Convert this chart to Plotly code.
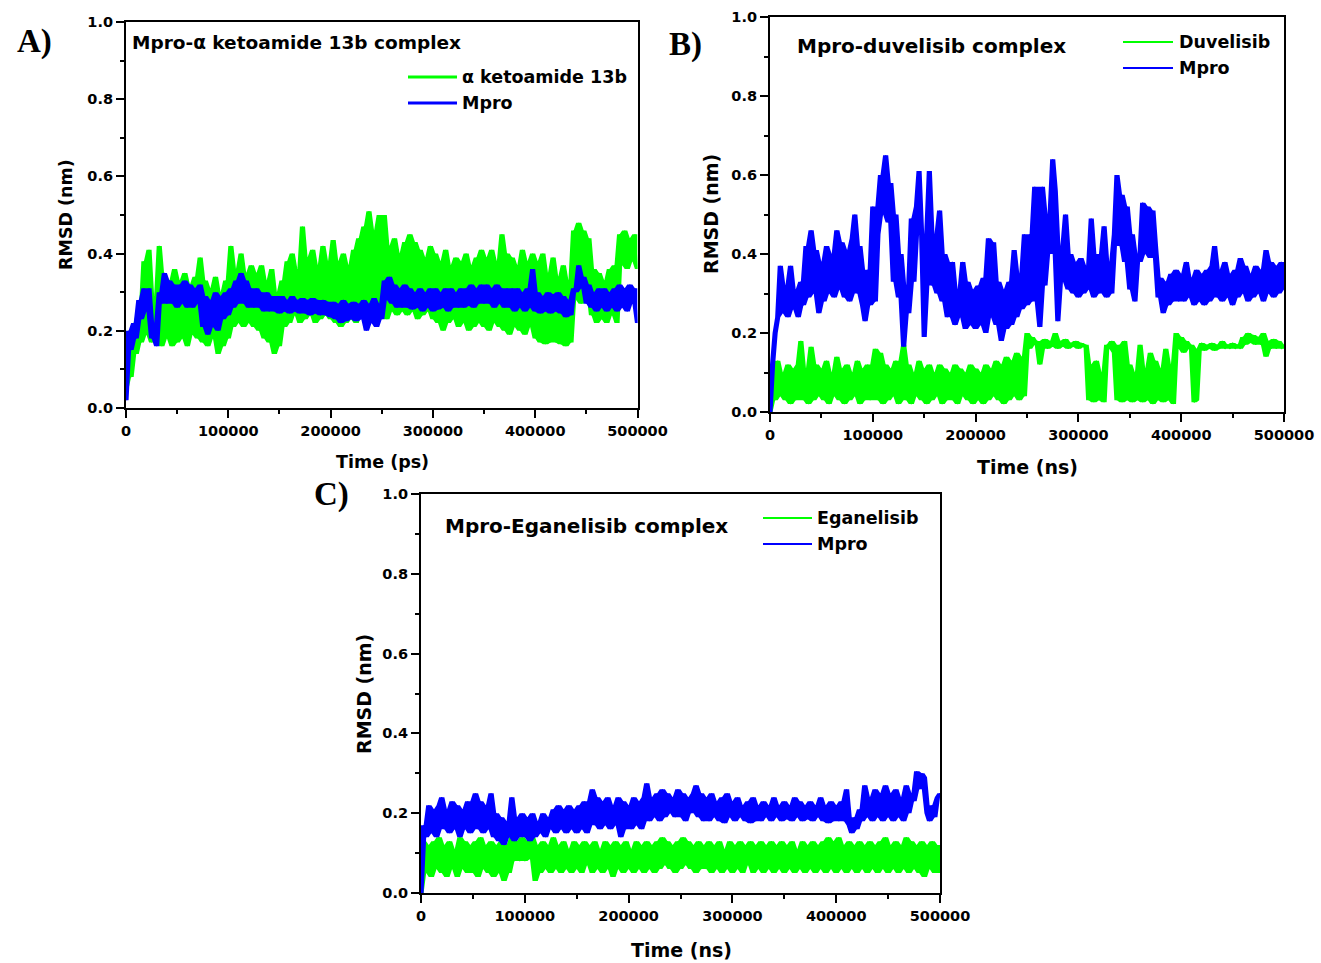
import numpy as np
import plotly.graph_objects as go

# ---- RMSD traces (nm), one sample every 2500 time units from 0 to 500000 ----
a_ligand = [
    0.05, 0.10, 0.08, 0.22, 0.14, 0.25, 0.17, 0.38, 0.19, 0.41,
    0.17, 0.29, 0.18, 0.42, 0.16, 0.34, 0.18, 0.33, 0.16, 0.36,
    0.17, 0.33, 0.18, 0.35, 0.16, 0.32, 0.19, 0.34, 0.18, 0.39,
    0.17, 0.33, 0.16, 0.31, 0.18, 0.34, 0.14, 0.30, 0.16, 0.33,
    0.18, 0.42, 0.21, 0.36, 0.22, 0.40, 0.21, 0.35, 0.22, 0.37,
    0.21, 0.35, 0.20, 0.37, 0.18, 0.33, 0.17, 0.36, 0.14, 0.30,
    0.16, 0.33, 0.21, 0.38, 0.22, 0.40, 0.24, 0.36, 0.22, 0.47,
    0.23, 0.39, 0.24, 0.41, 0.22, 0.37, 0.23, 0.42, 0.24, 0.38,
    0.23, 0.435, 0.22, 0.38, 0.21, 0.40, 0.22, 0.37, 0.23, 0.41,
    0.22, 0.44, 0.24, 0.47, 0.23, 0.51, 0.24, 0.46, 0.22, 0.50,
    0.24, 0.50, 0.23, 0.42, 0.25, 0.44, 0.24, 0.40, 0.25, 0.43,
    0.24, 0.45, 0.25, 0.43, 0.23, 0.41, 0.24, 0.39, 0.25, 0.42,
    0.23, 0.40, 0.22, 0.38, 0.20, 0.41, 0.22, 0.37, 0.23, 0.39,
    0.21, 0.38, 0.22, 0.40, 0.20, 0.37, 0.21, 0.39, 0.22, 0.41,
    0.21, 0.39, 0.20, 0.41, 0.22, 0.38, 0.21, 0.45, 0.20, 0.40,
    0.19, 0.39, 0.21, 0.37, 0.20, 0.41, 0.19, 0.38, 0.21, 0.40,
    0.18, 0.38, 0.17, 0.40, 0.165, 0.35, 0.17, 0.39, 0.17, 0.34,
    0.165, 0.37, 0.16, 0.33, 0.17, 0.46, 0.28, 0.48, 0.27, 0.46,
    0.30, 0.44, 0.24, 0.36, 0.22, 0.35, 0.23, 0.33, 0.22, 0.36,
    0.24, 0.37, 0.22, 0.45, 0.37, 0.46, 0.36, 0.44, 0.38, 0.45,
    0.36,
]
a_mpro = [
    0.02, 0.20, 0.15, 0.22, 0.18, 0.28, 0.23, 0.31, 0.25, 0.31,
    0.18, 0.22, 0.16, 0.30, 0.27, 0.35, 0.27, 0.33, 0.27, 0.32,
    0.26, 0.32, 0.27, 0.33, 0.26, 0.32, 0.26, 0.31, 0.27, 0.32,
    0.21, 0.29, 0.19, 0.28, 0.21, 0.30, 0.20, 0.29, 0.23, 0.30,
    0.24, 0.31, 0.26, 0.33, 0.27, 0.35, 0.27, 0.33, 0.26, 0.31,
    0.26, 0.31, 0.26, 0.30, 0.25, 0.30, 0.25, 0.29, 0.25, 0.29,
    0.245, 0.29, 0.25, 0.28, 0.245, 0.29, 0.25, 0.28, 0.245, 0.285,
    0.245, 0.28, 0.24, 0.285, 0.245, 0.28, 0.24, 0.28, 0.24, 0.275,
    0.235, 0.275, 0.23, 0.27, 0.22, 0.28, 0.225, 0.27, 0.23, 0.275,
    0.225, 0.27, 0.23, 0.28, 0.20, 0.27, 0.22, 0.285, 0.21, 0.27,
    0.23, 0.33, 0.28, 0.34, 0.27, 0.32, 0.26, 0.31, 0.26, 0.32,
    0.26, 0.31, 0.255, 0.30, 0.26, 0.31, 0.25, 0.30, 0.26, 0.31,
    0.25, 0.31, 0.255, 0.30, 0.26, 0.31, 0.25, 0.31, 0.26, 0.30,
    0.26, 0.31, 0.26, 0.31, 0.265, 0.32, 0.26, 0.31, 0.27, 0.32,
    0.27, 0.32, 0.27, 0.31, 0.26, 0.32, 0.27, 0.31, 0.26, 0.31,
    0.26, 0.31, 0.25, 0.31, 0.26, 0.30, 0.25, 0.31, 0.26, 0.36,
    0.25, 0.30, 0.245, 0.29, 0.25, 0.30, 0.245, 0.295, 0.25, 0.30,
    0.245, 0.29, 0.235, 0.28, 0.24, 0.31, 0.30, 0.37, 0.31, 0.34,
    0.27, 0.32, 0.26, 0.30, 0.25, 0.31, 0.26, 0.31, 0.25, 0.30,
    0.26, 0.31, 0.25, 0.32, 0.26, 0.31, 0.25, 0.32, 0.27, 0.31,
    0.22,
]
b_ligand = [
    0.0, 0.11, 0.03, 0.13, 0.04, 0.10, 0.03, 0.12, 0.02, 0.11,
    0.03, 0.12, 0.18, 0.03, 0.11, 0.02, 0.165, 0.03, 0.12, 0.04,
    0.11, 0.03, 0.13, 0.02, 0.10, 0.04, 0.14, 0.03, 0.11, 0.02,
    0.12, 0.03, 0.10, 0.04, 0.13, 0.02, 0.11, 0.03, 0.12, 0.03,
    0.10, 0.16, 0.03, 0.15, 0.02, 0.12, 0.03, 0.11, 0.04, 0.13,
    0.02, 0.11, 0.17, 0.03, 0.12, 0.02, 0.10, 0.04, 0.13, 0.03,
    0.11, 0.02, 0.12, 0.03, 0.10, 0.04, 0.12, 0.02, 0.11, 0.03,
    0.10, 0.03, 0.12, 0.02, 0.11, 0.04, 0.10, 0.03, 0.12, 0.02,
    0.11, 0.03, 0.10, 0.02, 0.12, 0.03, 0.11, 0.04, 0.13, 0.03,
    0.12, 0.02, 0.14, 0.03, 0.13, 0.04, 0.15, 0.03, 0.14, 0.04,
    0.20, 0.16, 0.19, 0.17, 0.18, 0.12, 0.17, 0.185, 0.16, 0.18,
    0.165, 0.20, 0.16, 0.18, 0.165, 0.185, 0.16, 0.175, 0.165, 0.18,
    0.16, 0.175, 0.165, 0.17, 0.03, 0.12, 0.025, 0.13, 0.03, 0.10,
    0.025, 0.17, 0.16, 0.18, 0.15, 0.03, 0.17, 0.025, 0.18, 0.03,
    0.12, 0.025, 0.10, 0.03, 0.17, 0.025, 0.11, 0.03, 0.15, 0.02,
    0.13, 0.03, 0.11, 0.025, 0.16, 0.03, 0.12, 0.02, 0.20, 0.16,
    0.19, 0.15, 0.18, 0.16, 0.17, 0.025, 0.03, 0.16, 0.175, 0.155,
    0.17, 0.16, 0.175, 0.155, 0.17, 0.16, 0.18, 0.16, 0.17, 0.16,
    0.175, 0.16, 0.17, 0.16, 0.19, 0.17, 0.20, 0.175, 0.195, 0.17,
    0.19, 0.17, 0.20, 0.14, 0.18, 0.16, 0.185, 0.16, 0.18, 0.16,
    0.17,
]
b_mpro = [
    0.0, 0.12, 0.20, 0.24, 0.37, 0.25, 0.32, 0.24, 0.37, 0.26,
    0.31, 0.24, 0.33, 0.27, 0.42, 0.29, 0.46, 0.30, 0.41, 0.25,
    0.38, 0.28, 0.42, 0.30, 0.40, 0.29, 0.46, 0.31, 0.43, 0.29,
    0.41, 0.28, 0.44, 0.50, 0.30, 0.42, 0.27, 0.23, 0.36, 0.27,
    0.52, 0.28, 0.45, 0.60, 0.50, 0.65, 0.48, 0.58, 0.33, 0.50,
    0.29, 0.40, 0.165, 0.32, 0.25, 0.49, 0.33, 0.52, 0.61, 0.45,
    0.19, 0.38, 0.61, 0.32, 0.45, 0.30, 0.51, 0.28, 0.40, 0.24,
    0.33, 0.38, 0.22, 0.31, 0.24, 0.38, 0.21, 0.33, 0.22, 0.31,
    0.21, 0.32, 0.22, 0.34, 0.20, 0.44, 0.24, 0.43, 0.22, 0.33,
    0.18, 0.31, 0.21, 0.33, 0.22, 0.41, 0.24, 0.35, 0.26, 0.45,
    0.27, 0.45, 0.28, 0.57, 0.30, 0.215, 0.57, 0.32, 0.50, 0.40,
    0.64, 0.56, 0.23, 0.42, 0.33, 0.50, 0.31, 0.40, 0.30, 0.38,
    0.29, 0.39, 0.30, 0.37, 0.31, 0.49, 0.29, 0.40, 0.30, 0.38,
    0.47, 0.29, 0.38, 0.30, 0.45, 0.60, 0.42, 0.55, 0.38, 0.52,
    0.31, 0.45, 0.28, 0.40, 0.38, 0.53, 0.40, 0.52, 0.39, 0.51,
    0.42, 0.29, 0.34, 0.25, 0.33, 0.27, 0.35, 0.28, 0.36, 0.28,
    0.35, 0.28, 0.38, 0.29, 0.34, 0.27, 0.36, 0.28, 0.35, 0.27,
    0.36, 0.28, 0.37, 0.42, 0.29, 0.36, 0.28, 0.38, 0.29, 0.35,
    0.27, 0.36, 0.29, 0.39, 0.30, 0.37, 0.28, 0.35, 0.29, 0.37,
    0.30, 0.36, 0.28, 0.41, 0.30, 0.38, 0.29, 0.37, 0.30, 0.38,
    0.31,
]
c_ligand = [
    0.0, 0.13, 0.05, 0.12, 0.04, 0.13, 0.06, 0.14, 0.05, 0.12,
    0.04, 0.13, 0.06, 0.11, 0.04, 0.14, 0.06, 0.13, 0.05, 0.12,
    0.05, 0.13, 0.04, 0.14, 0.06, 0.12, 0.05, 0.13, 0.04, 0.12,
    0.05, 0.13, 0.03, 0.12, 0.05, 0.14, 0.08, 0.13, 0.08, 0.14,
    0.08, 0.13, 0.085, 0.14, 0.03, 0.12, 0.05, 0.13, 0.06, 0.12,
    0.05, 0.14, 0.06, 0.12, 0.05, 0.13, 0.06, 0.11, 0.05, 0.13,
    0.06, 0.12, 0.05, 0.13, 0.07, 0.12, 0.05, 0.13, 0.06, 0.11,
    0.05, 0.13, 0.06, 0.12, 0.04, 0.13, 0.06, 0.12, 0.05, 0.13,
    0.06, 0.11, 0.05, 0.13, 0.06, 0.12, 0.05, 0.13, 0.06, 0.12,
    0.05, 0.13, 0.06, 0.14, 0.07, 0.13, 0.06, 0.12, 0.05, 0.13,
    0.06, 0.14, 0.07, 0.13, 0.06, 0.12, 0.05, 0.13, 0.06, 0.12,
    0.06, 0.13, 0.05, 0.12, 0.06, 0.13, 0.05, 0.11, 0.06, 0.13,
    0.05, 0.12, 0.06, 0.13, 0.05, 0.12, 0.07, 0.13, 0.05, 0.12,
    0.06, 0.13, 0.05, 0.12, 0.06, 0.13, 0.05, 0.12, 0.06, 0.13,
    0.05, 0.12, 0.06, 0.13, 0.05, 0.11, 0.06, 0.13, 0.05, 0.12,
    0.06, 0.13, 0.05, 0.12, 0.06, 0.13, 0.05, 0.14, 0.06, 0.13,
    0.05, 0.14, 0.06, 0.12, 0.05, 0.13, 0.06, 0.12, 0.05, 0.13,
    0.06, 0.12, 0.05, 0.13, 0.06, 0.12, 0.05, 0.13, 0.06, 0.14,
    0.05, 0.12, 0.06, 0.13, 0.05, 0.12, 0.06, 0.14, 0.05, 0.13,
    0.06, 0.12, 0.05, 0.13, 0.04, 0.12, 0.06, 0.13, 0.05, 0.12,
    0.05,
]
c_mpro = [
    0.0, 0.17, 0.14, 0.22, 0.15, 0.21, 0.14, 0.22, 0.24, 0.16,
    0.21, 0.15, 0.23, 0.16, 0.22, 0.14, 0.21, 0.16, 0.23, 0.15,
    0.22, 0.25, 0.16, 0.23, 0.15, 0.22, 0.16, 0.25, 0.14, 0.20,
    0.13, 0.19, 0.12, 0.18, 0.14, 0.24, 0.13, 0.19, 0.14, 0.20,
    0.14, 0.19, 0.13, 0.20, 0.14, 0.18, 0.15, 0.20, 0.14, 0.19,
    0.16, 0.21, 0.15, 0.22, 0.16, 0.21, 0.15, 0.22, 0.16, 0.21,
    0.15, 0.22, 0.16, 0.23, 0.15, 0.21, 0.26, 0.17, 0.24, 0.16,
    0.23, 0.17, 0.24, 0.16, 0.22, 0.17, 0.24, 0.14, 0.23, 0.16,
    0.22, 0.16, 0.24, 0.17, 0.23, 0.16, 0.24, 0.275, 0.18, 0.24,
    0.19, 0.25, 0.18, 0.26, 0.19, 0.25, 0.20, 0.24, 0.19, 0.26,
    0.19, 0.25, 0.18, 0.24, 0.20, 0.25, 0.27, 0.19, 0.25, 0.18,
    0.24, 0.18, 0.25, 0.19, 0.23, 0.18, 0.24, 0.175, 0.25, 0.19,
    0.23, 0.18, 0.24, 0.19, 0.22, 0.18, 0.23, 0.175, 0.24, 0.18,
    0.22, 0.18, 0.23, 0.19, 0.22, 0.18, 0.24, 0.19, 0.22, 0.18,
    0.23, 0.185, 0.22, 0.18, 0.24, 0.19, 0.23, 0.18, 0.22, 0.185,
    0.23, 0.18, 0.22, 0.19, 0.24, 0.18, 0.22, 0.175, 0.23, 0.18,
    0.22, 0.18, 0.23, 0.18, 0.26, 0.17, 0.15, 0.19, 0.16, 0.21,
    0.18, 0.27, 0.19, 0.24, 0.18, 0.26, 0.19, 0.25, 0.18, 0.27,
    0.19, 0.25, 0.18, 0.26, 0.19, 0.24, 0.18, 0.27, 0.20, 0.25,
    0.23, 0.305, 0.26, 0.30, 0.29, 0.20, 0.18, 0.22, 0.19, 0.24,
    0.25,
]

# ---- axis ticks and labels ----
T_MAX = 500000
x_tickvals = [0, 100000, 200000, 300000, 400000, 500000]
x_ticktext = ["0", "100000", "200000", "300000", "400000", "500000"]
y_tickvals = [0.0, 0.2, 0.4, 0.6, 0.8, 1.0]
y_ticktext = ["0.0", "0.2", "0.4", "0.6", "0.8", "1.0"]

panel_letters = ["A)", "B)", "C)"]
panel_titles = ["Mpro-α ketoamide 13b complex", "Mpro-duvelisib complex", "Mpro-Eganelisib complex"]
ligand_names = ["α ketoamide 13b", "Duvelisib", "Eganelisib"]
protein_name = "Mpro"
x_titles = ["Time (ps)", "Time (ns)", "Time (ns)"]
y_title = "RMSD (nm)"

ligand_series = [a_ligand, b_ligand, c_ligand]
protein_series = [a_mpro, b_mpro, c_mpro]

# ---- page geometry and style ----
W, H = 1321, 963
GREEN = "#00FF00"
BLUE = "#0000FF"
SANS = "DejaVu Sans"
SERIF = "Liberation Serif"


def px(x):
    return x / W


def py(y):
    return 1 - y / H


def local_envelope(vals):
    """Max / min of each sample and its two neighbours: the band the dense trace sweeps."""
    v = np.asarray(vals, dtype=float)
    padded = np.concatenate(([v[0]], v, [v[-1]]))
    stack = np.stack([padded[:-2], padded[1:-1], padded[2:]])
    return stack.max(axis=0), stack.min(axis=0)


# frame (left, right, top, bottom) and label anchors of each panel, in page pixels
panels = [
    dict(box=(126, 637.5, 22, 408), letter=(34, 41), title=(130, 42), title_size=18.5,
         legend=(408, 457, 460), legend_y=(77, 103), legend_w=3,
         xlab=(383, 462), ylab=(66, 215), lab_size=17.5),
    dict(box=(770, 1284, 17, 412), letter=(685, 44), title=(795, 46), title_size=20,
         legend=(1123, 1173, 1177), legend_y=(42, 68), legend_w=2.2,
         xlab=(1027, 467), ylab=(711, 214), lab_size=19),
    dict(box=(421, 940, 494, 893), letter=(331, 494), title=(443, 526), title_size=20,
         legend=(763, 812, 815), legend_y=(518, 544), legend_w=2.2,
         xlab=(681, 950), ylab=(364, 694), lab_size=19),
]

fig = go.Figure()
layout = {}
annotations = []
shapes = []

tick_font = dict(family=SANS, size=14.5, color="black", weight="bold")

for i, p in enumerate(panels):
    sfx = "" if i == 0 else str(i + 1)
    xa, ya = "x" + sfx, "y" + sfx
    for vals, color in ((ligand_series[i], GREEN), (protein_series[i], BLUE)):
        t = np.linspace(0, T_MAX, len(vals))
        upper, lower = local_envelope(vals)
        # solid band swept by the fluctuating trace
        fig.add_trace(go.Scatter(
            x=t, y=lower, mode="lines", xaxis=xa, yaxis=ya,
            line=dict(color=color, width=0), showlegend=False, hoverinfo="skip",
        ))
        fig.add_trace(go.Scatter(
            x=t, y=upper, mode="lines", xaxis=xa, yaxis=ya, fill="tonexty",
            fillcolor=color, line=dict(color=color, width=0),
            showlegend=False, hoverinfo="skip",
        ))
        # the trace itself
        fig.add_trace(go.Scatter(
            x=t, y=vals, mode="lines", xaxis=xa, yaxis=ya,
            line=dict(color=color, width=1.3), showlegend=False,
            hoverinfo="skip",
        ))

    left, right, top, bottom = p["box"]
    common = dict(
        showline=True, linewidth=2.2, linecolor="black", mirror=True,
        ticks="outside", ticklen=8, tickwidth=2, tickcolor="black",
        showgrid=False, zeroline=False, tickfont=tick_font,
        fixedrange=True, automargin=False,
    )
    layout["xaxis" + sfx] = dict(
        domain=[px(left), px(right)], anchor=ya, range=[0, T_MAX],
        tickmode="array", tickvals=x_tickvals, ticktext=x_ticktext,
        minor=dict(ticks="outside", ticklen=4, tickwidth=2, tickcolor="black", dtick=50000),
        **common,
    )
    layout["yaxis" + sfx] = dict(
        domain=[py(bottom), py(top)], anchor=xa, range=[0, 1.0],
        tickmode="array", tickvals=y_tickvals, ticktext=y_ticktext,
        minor=dict(ticks="outside", ticklen=4, tickwidth=2, tickcolor="black", dtick=0.1),
        **common,
    )

    # panel letter
    lx, ly = p["letter"]
    annotations.append(dict(
        text=panel_letters[i], x=px(lx), y=py(ly), xref="paper", yref="paper",
        xanchor="center", yanchor="middle", showarrow=False,
        font=dict(family=SERIF, size=33, color="black", weight="bold"),
    ))
    # complex title inside the frame
    tx, ty = p["title"]
    annotations.append(dict(
        text=panel_titles[i], x=px(tx), y=py(ty), xref="paper", yref="paper",
        xanchor="left", yanchor="middle", showarrow=False,
        font=dict(family=SANS, size=p["title_size"], color="black", weight="bold"),
    ))
    # axis titles
    xx, xy = p["xlab"]
    annotations.append(dict(
        text=x_titles[i], x=px(xx), y=py(xy), xref="paper", yref="paper",
        xanchor="center", yanchor="middle", showarrow=False,
        font=dict(family=SANS, size=p["lab_size"], color="black", weight="bold"),
    ))
    yx, yy = p["ylab"]
    annotations.append(dict(
        text=y_title, x=px(yx), y=py(yy), xref="paper", yref="paper",
        xanchor="center", yanchor="middle", showarrow=False, textangle=-90,
        font=dict(family=SANS, size=p["lab_size"], color="black", weight="bold"),
    ))
    # legend: line sample + label for ligand and protein
    l0, l1, ltxt = p["legend"]
    for name, color, ly_ in ((ligand_names[i], GREEN, p["legend_y"][0]),
                             (protein_name, BLUE, p["legend_y"][1])):
        shapes.append(dict(
            type="line", xref="paper", yref="paper",
            x0=px(l0), x1=px(l1), y0=py(ly_), y1=py(ly_),
            line=dict(color=color, width=p["legend_w"]),
        ))
        annotations.append(dict(
            text=name, x=px(ltxt), y=py(ly_), xref="paper", yref="paper",
            xanchor="left", yanchor="middle", showarrow=False,
            font=dict(family=SANS, size=17.5, color="black", weight="bold"),
        ))

fig.update_layout(
    width=W, height=H,
    margin=dict(l=0, r=0, t=0, b=0),
    paper_bgcolor="white", plot_bgcolor="white",
    showlegend=False,
    annotations=annotations, shapes=shapes,
    **layout,
)

fig.write_html("out.html", config=dict(displayModeBar=False))
